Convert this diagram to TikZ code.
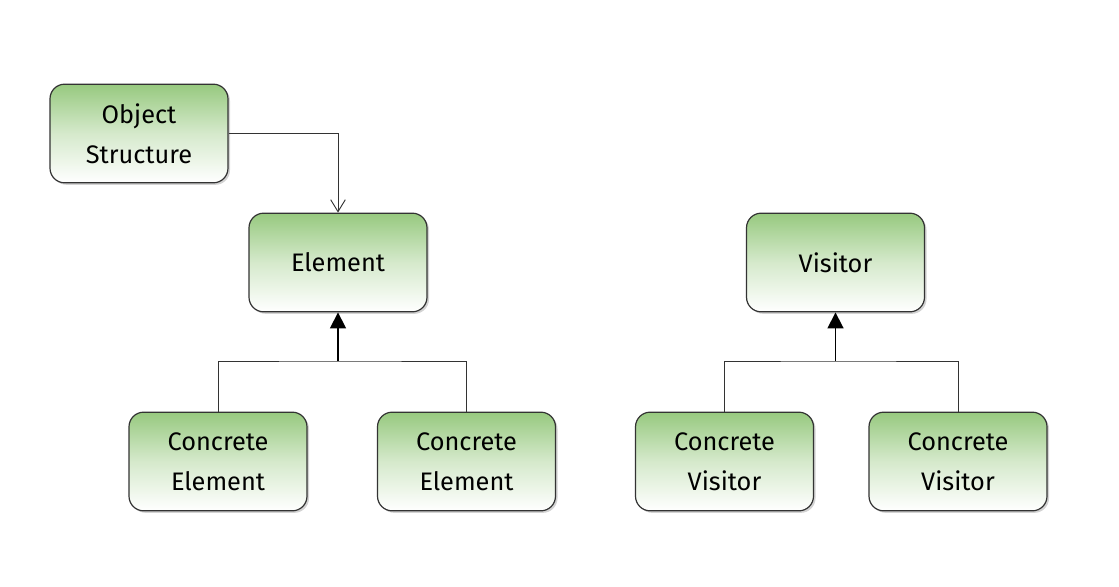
\documentclass[tikz,border=0pt]{standalone}
\usepackage{fontspec}
\setmainfont{Fira Sans}
\usetikzlibrary{arrows.meta,shadows}
\definecolor{boxgreen}{HTML}{97C97F}
\definecolor{edge}{HTML}{333333}
\tikzset{
  cls/.style={draw=edge, line width=0.9pt, rounded corners=11pt, minimum width=133.5pt, minimum height=74pt,
    top color=boxgreen, bottom color=white, middle color=boxgreen!40!white,
    drop shadow={shadow xshift=1.5pt, shadow yshift=-1.5pt, opacity=0.35},
    align=center, font=\fontsize{19}{30}\selectfont, text=black},
  conn/.style={draw=edge, line width=0.7pt},
  gen/.style={draw=black, line width=1.3pt, -{Triangle[length=12pt,width=12pt]}},
  assoc/.style={conn, -{Straight Barb[length=9pt,width=11pt,line width=0.7pt]}}
}
\begin{document}
\begin{tikzpicture}[x=0.75pt,y=-0.75pt]
\useasboundingbox (0,0) rectangle (1119,586);
\node[cls] (os) at (139,133.5) {Object\\Structure};
\node[cls] (el) at (338,262.5) {Element};
\node[cls] (vi) at (835.5,262.5) {Visitor};
\node[cls] (ce1) at (218,461.5) {Concrete\\Element};
\node[cls] (ce2) at (466.5,461.5) {Concrete\\Element};
\node[cls] (cv1) at (724.5,461.5) {Concrete\\Visitor};
\node[cls] (cv2) at (958,461.5) {Concrete\\Visitor};
\coordinate (je) at (338,361);
\coordinate (jv) at (835.5,361);
\draw[assoc] (os.east) -| (el.north);
\draw[conn] (ce1.north) |- (je) -| (ce2.north);
\draw[conn] (cv1.north) |- (jv) -| (cv2.north);
\draw[gen] (je) -- (el.south);
\draw[gen] (jv) -- (vi.south);
\end{tikzpicture}
\end{document}
